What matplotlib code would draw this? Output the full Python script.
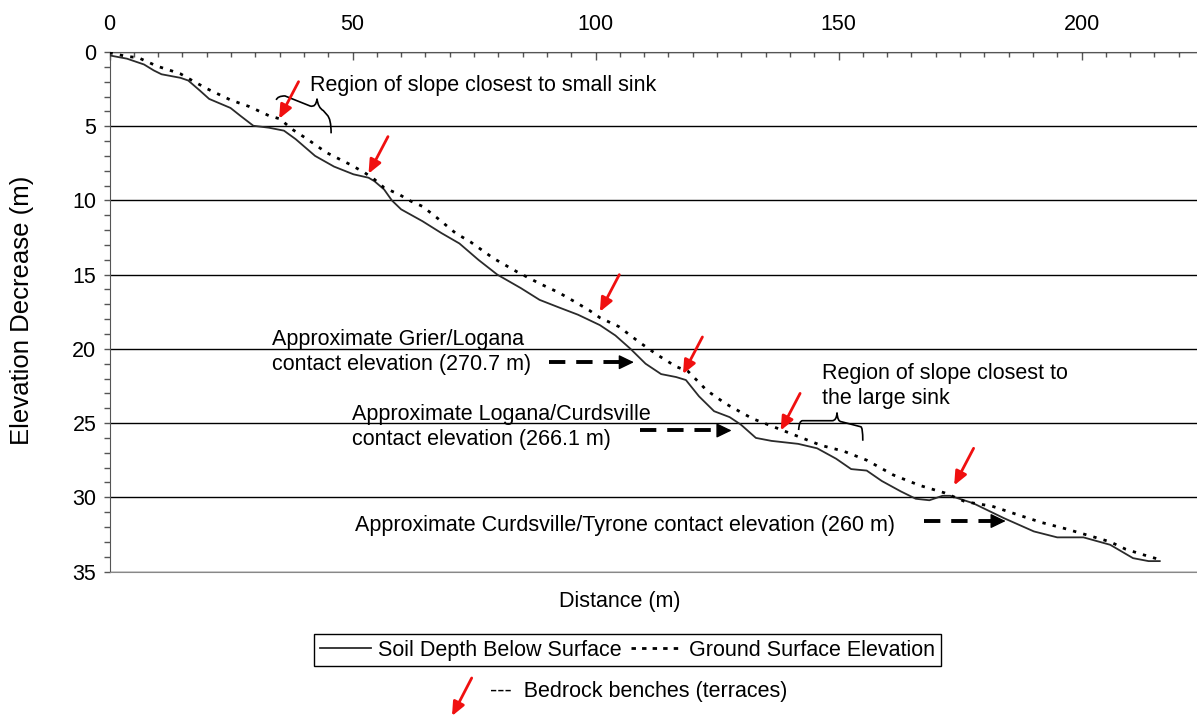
import matplotlib
matplotlib.use("Agg")
import matplotlib.pyplot as plt
from matplotlib.path import Path
from matplotlib.patches import PathPatch
from matplotlib.lines import Line2D
import numpy as np

plt.rcParams['font.family'] = ['Liberation Sans', 'DejaVu Sans']
plt.rcParams['font.size'] = 15.5

# soil depth below surface (solid line)
soil_dist = [0, 3.6, 7.1, 9.1, 10.7, 14.6, 16.2, 18.6, 20.5, 24.9, 26.9, 29.6, 32.8,
             35.9, 38.3, 42.3, 46.2, 50.2, 53.3, 54.5, 56.5, 58.1, 60.0, 64.4, 68.3,
             72.0, 75.9, 79.8, 84.6, 88.5, 92.4, 96.4, 100.9, 104.1, 107.2, 110.3,
             113.5, 116.6, 118.6, 121.3, 124.4, 127.6, 129.9, 133.0, 136.2, 141.7,
             145.6, 149.5, 152.6, 155.8, 158.9, 162.8, 165.9, 168.7, 171.4, 173.0,
             177.7, 184.0, 190.2, 195.0, 200.4, 205.9, 210.6, 213.8, 216.1]
soil_depth = [0.23, 0.45, 0.84, 1.24, 1.5, 1.74, 1.92, 2.6, 3.16, 3.77, 4.29, 4.97, 5.1,
              5.3, 5.87, 7.0, 7.72, 8.24, 8.47, 8.7, 9.26, 10.0, 10.6, 11.4, 12.2,
              12.9, 14.0, 15.0, 15.9, 16.7, 17.2, 17.7, 18.4, 19.1, 20.0, 21.0,
              21.7, 21.9, 22.1, 23.2, 24.2, 24.6, 25.1, 26.0, 26.2, 26.4,
              26.7, 27.4, 28.1, 28.2, 28.9, 29.6, 30.1, 30.2, 29.9, 29.9,
              30.4, 31.4, 32.3, 32.7, 32.7, 33.2, 34.1, 34.3, 34.3]

# ground surface elevation (dotted line)
ground_dist = [0, 3.6, 5.9, 9.9, 11.5, 14.6, 17.0, 20.1, 24.9, 28.8, 32.8, 35.1, 37.5,
               40.7, 44.6, 49.4, 52.5, 54.5, 56.5, 59.6, 62.0, 64.4, 67.5, 71.2, 74.3,
               79.0, 83.8, 88.5, 92.4, 95.6, 98.7, 100.9, 104.8, 108.8, 112.7, 116.6,
               119.0, 122.9, 126.8, 132.3, 137.8, 141.7, 146.4, 151.1, 155.8, 161.3,
               166.7, 171.8, 176.1, 181.6, 187.1, 191.8, 196.5, 202.8, 205.9, 209.1,
               213.0, 216.1]
ground_depth = [0.05, 0.3, 0.38, 0.97, 1.13, 1.47, 1.92, 2.48, 3.23, 3.68, 4.29, 4.51, 5.19,
                5.87, 6.77, 7.56, 8.13, 8.58, 9.14, 9.6, 10.05, 10.4, 11.2, 12.2, 12.8,
                13.9, 14.8, 15.6, 16.2, 16.8, 17.4, 17.9, 18.5, 19.5, 20.4, 21.2,
                21.5, 22.8, 23.7, 24.7, 25.4, 25.9, 26.5, 26.9, 27.5, 28.5,
                29.2, 29.7, 30.3, 30.6, 31.2, 31.7, 32.1, 32.7, 33.0, 33.5,
                33.9, 34.2]

# bedrock benches (red arrows)
bench_dist = [34.9, 53.3, 100.9, 118.0, 138.1, 173.8]
bench_depth = [4.5, 8.2, 17.5, 21.7, 25.5, 29.2]

# contact elevations (black dashed arrows)
top_elev = 291.6
contact_elev = [270.7, 266.1, 260.0]
contact_from = [90.4, 109.1, 167.5]
contact_to = [107.9, 128.0, 184.4]

W, H = 1197, 715
fig = plt.figure(figsize=(W / 100, H / 100), dpi=100)
ax = fig.add_axes([109.5 / W, 1 - 571.5 / H, (W - 109.5) / W, 519.5 / H])

ax.plot(soil_dist, soil_depth, color='#2b2b2b', lw=1.3, zorder=3)
ax.plot(ground_dist, ground_depth, color='black', lw=2.0, ls=(0, (1.2, 2.6)), zorder=4)

ax.set_xlim(0, (W - 109.5) / 4.86)
ax.set_ylim(35, 0)
ax.xaxis.tick_top()
ax.set_xticks(np.arange(0, 201, 50))
ax.set_xticks(np.arange(0, 225, 5), minor=True)
ax.set_yticks(np.arange(0, 36, 5))
ax.set_yticks(np.arange(0, 36, 1), minor=True)
ax.tick_params(axis='x', which='major', direction='in', length=6, width=1, color='#555', pad=12)
ax.tick_params(axis='x', which='minor', direction='in', length=3.5, width=1, color='#555')
ax.tick_params(axis='y', which='both', direction='out', length=4.5, width=1, color='#555', pad=5)
ax.grid(axis='y', which='major', color='black', lw=1)
for s in ['top', 'left']:
    ax.spines[s].set_color('#555')
ax.spines['bottom'].set_color('#888')
ax.spines['right'].set_visible(False)

# red arrows at benches
for d, v in zip(bench_dist, bench_depth):
    ax.annotate('', xy=(d, v), xytext=(d + 4.0, v - 2.5),
                arrowprops=dict(arrowstyle='-|>,head_length=0.55,head_width=0.24',
                                color='#f01010', lw=2, shrinkA=0, shrinkB=0,
                                mutation_scale=15), zorder=6)

# black dashed arrows for contacts
for e, x0, x1 in zip(contact_elev, contact_from, contact_to):
    y = top_elev - e
    ax.plot([x0, x1 - 2.4], [y, y], color='black', lw=2.8, ls=(0, (4.2, 2.8)),
            solid_capstyle='butt', dash_capstyle='butt', zorder=5)
    ax.annotate('', xy=(x1, y), xytext=(x1 - 2.8, y),
                arrowprops=dict(arrowstyle='-|>,head_length=0.62,head_width=0.3',
                                color='black', lw=1, shrinkA=0, shrinkB=0,
                                mutation_scale=15), zorder=5)


def brace(pts, codes):
    p = PathPatch(Path(pts, codes), fc='none', ec='black', lw=1.2, zorder=5)
    ax.add_patch(p)


M, C, L = Path.MOVETO, Path.CURVE3, Path.LINETO
brace([(34.3, 3.23), (34.6, 2.96), (36.1, 2.96), (41.3, 3.64), (42.5, 3.75), (42.7, 3.15),
       (42.9, 3.75), (44.0, 3.95), (44.8, 4.25), (45.6, 4.5), (45.6, 5.48)],
      [M, C, C, L, C, C, C, C, L, C, C])
brace([(141.8, 25.47), (141.9, 24.84), (142.6, 24.84), (148.7, 24.84), (149.6, 24.84), (149.7, 24.3),
       (149.8, 24.91), (150.6, 24.91), (154.6, 25.25), (155.0, 25.3), (155.0, 26.19)],
      [M, C, C, L, C, C, C, C, L, C, C])


def ftxt(px, py, s, **kw):
    fig.text(px / W, 1 - py / H, s, va='center', ha='left', **kw)


ftxt(310, 85, 'Region of slope closest to small sink')
ftxt(272, 352, 'Approximate Grier/Logana\ncontact elevation (270.7 m)', linespacing=1.27)
ftxt(352, 427, 'Approximate Logana/Curdsville\ncontact elevation (266.1 m)', linespacing=1.27)
ftxt(822, 386.3, 'Region of slope closest to\nthe large sink', linespacing=1.27)
ftxt(355, 525, 'Approximate Curdsville/Tyrone contact elevation (260 m)')

fig.text(619.7 / W, 1 - 601.7 / H, 'Distance (m)', ha='center', va='center')
fig.text(22 / W, 1 - 310 / H, 'Elevation Decrease (m)', ha='center', va='center',
         rotation=90, fontsize=18.5)

handles = [Line2D([], [], color='#2b2b2b', lw=1.3),
           Line2D([], [], color='black', lw=2.0, ls=(0, (1.6, 2.2)))]
leg = fig.legend(handles, ['Soil Depth Below Surface', 'Ground Surface Elevation'],
                 loc='center', bbox_to_anchor=(627.5 / W, 1 - 650.3 / H), ncol=2,
                 frameon=True, fancybox=False, edgecolor='black', framealpha=1,
                 handlelength=2.4, handletextpad=0.3, columnspacing=0.45, borderpad=0.25,
                 borderaxespad=0)
leg.get_frame().set_linewidth(1)

fig.add_artist(plt.Annotation('', xy=(452 / W, 1 - 716 / H), xytext=(471.7 / W, 1 - 678 / H),
                              xycoords='figure fraction', textcoords='figure fraction',
                              arrowprops=dict(arrowstyle='-|>,head_length=0.55,head_width=0.24',
                                              color='#f01010', lw=2, shrinkA=0, shrinkB=0,
                                              mutation_scale=15)))
ftxt(490, 691.7, '---  Bedrock benches (terraces)')

fig.savefig('out.png', dpi=100)
